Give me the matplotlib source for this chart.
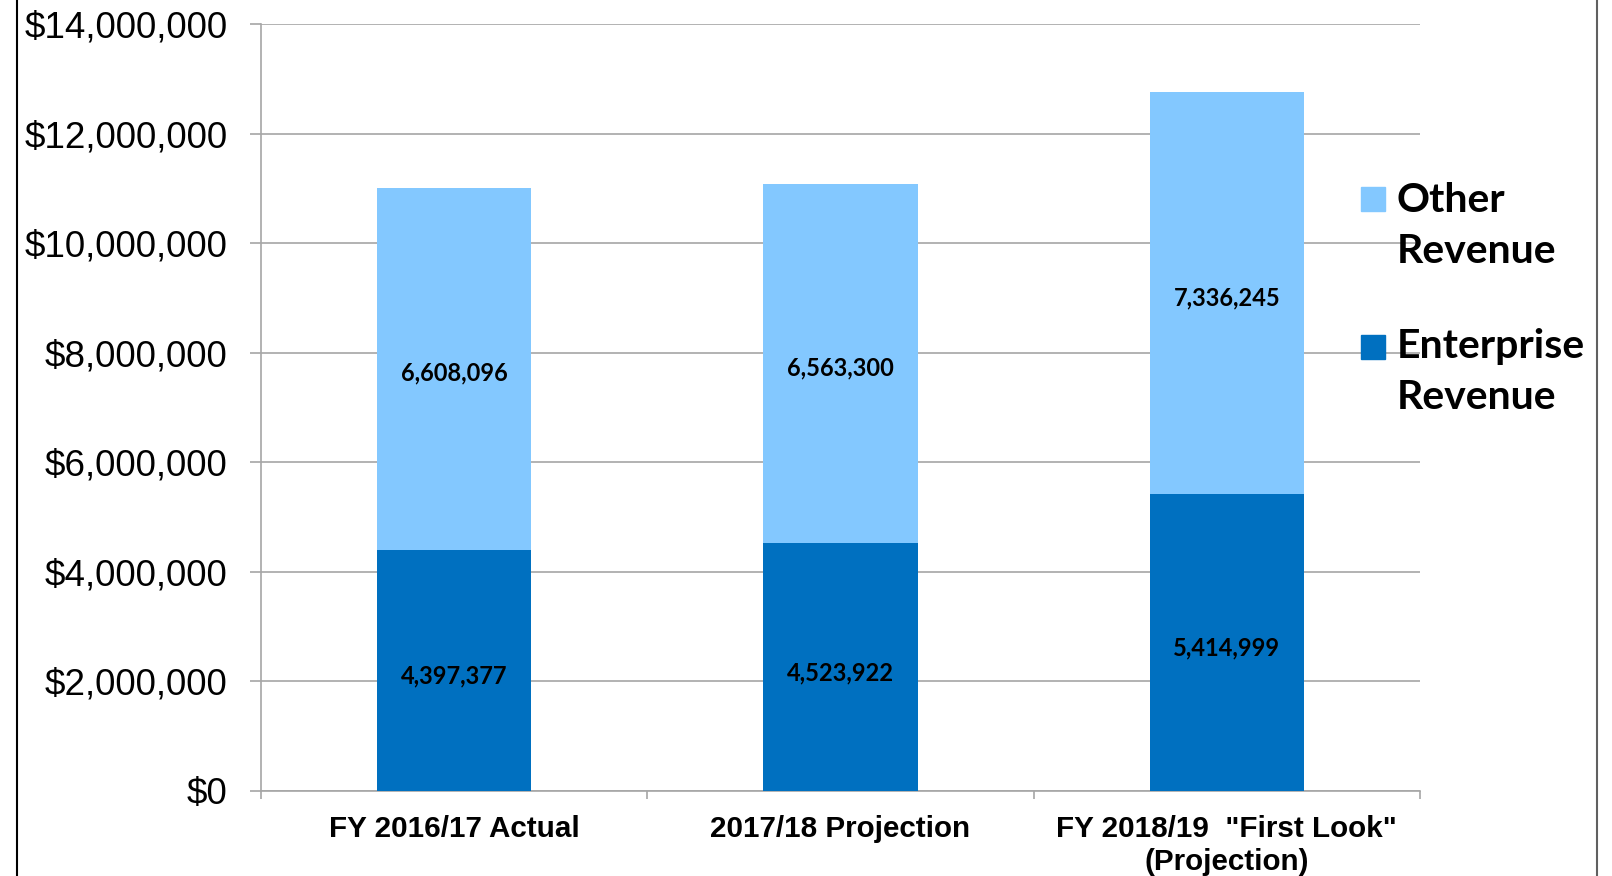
import numpy as np
import matplotlib
matplotlib.use('Agg')
import matplotlib.pyplot as plt
from matplotlib.patches import Rectangle
from matplotlib.lines import Line2D
from matplotlib.ticker import FuncFormatter

# Data
categories = ['FY 2016/17 Actual', '2017/18 Projection',
              'FY 2018/19  "First Look"\n(Projection)']
enterprise = [4397377, 4523922, 5414999]
other = [6608096, 6563300, 7336245]
series_names = ['Other\nRevenue', 'Enterprise\nRevenue']
colors = ['#83C8FF', '#0070C0']

fig = plt.figure(figsize=(16.12, 8.76), dpi=100)
ax = fig.add_axes([261/1612, 1 - 791/876, (1420-261)/1612, (791-24)/876])

x = np.arange(len(categories))
w = 0.40
ax.bar(x, enterprise, w, color=colors[1], zorder=3)
ax.bar(x, other, w, bottom=enterprise, color=colors[0], zorder=3)

# value labels, centred in each segment
for i in range(len(x)):
    ax.annotate(f'{enterprise[i]:,}', (x[i], enterprise[i] / 2), xytext=(0, -4),
                textcoords='offset points', ha='center', va='center',
                fontsize=17, fontweight='bold', family='Lato', color='black', zorder=4)
    ax.annotate(f'{other[i]:,}', (x[i], enterprise[i] + other[i] / 2), xytext=(0, -3),
                textcoords='offset points', ha='center', va='center',
                fontsize=17, fontweight='bold', family='Lato', color='black', zorder=4)

ax.set_xlim(-0.5, 2.5)
ax.set_ylim(0, 14000000)
ax.set_yticks(np.arange(0, 14000001, 2000000))
ax.yaxis.set_major_formatter(FuncFormatter(lambda v, p: '${:,.0f}'.format(v)))
ax.grid(axis='y', color='#A6A6A6', linewidth=1.2, zorder=0)

ax.set_xticks(x)
ax.set_xticklabels(categories, fontsize=21.3, fontweight='bold', family='Liberation Sans',
                   linespacing=1.25)
ax.set_xticks([-0.5, 0.5, 1.5, 2.5], minor=True)
ax.tick_params(axis='x', which='major', length=0, pad=17)
ax.tick_params(axis='x', which='minor', length=6, width=1.2, color='#A6A6A6', direction='out')
ax.tick_params(axis='y', length=8, width=1.2, color='#A6A6A6', pad=16, labelsize=26.5)
for lab in ax.get_yticklabels():
    lab.set_family('Liberation Sans')

for s in ['top', 'right']:
    ax.spines[s].set_visible(False)
for s in ['left', 'bottom']:
    ax.spines[s].set_color('#A6A6A6')
    ax.spines[s].set_linewidth(1.2)

# legend drawn by hand so the swatch sits on the first line
sw_center = [1 - 199/876, 1 - 347/876]
first_base = [1 - 212/876, 1 - 358/876]
for name, c, yy, yb in zip(series_names, colors, sw_center, first_base):
    fig.add_artist(Rectangle((1361/1612, yy - 12/876), 24/1612, 24/876,
                             transform=fig.transFigure, color=c))
    line1, line2 = name.split('\n')
    fig.text(1397/1612, yb, line1, fontsize=29.5, fontweight='bold', family='Lato',
             va='baseline', ha='left')
    fig.text(1397/1612, yb - 51/876, line2, fontsize=29.5, fontweight='bold', family='Lato',
             va='baseline', ha='left')

# chart frame edges
fig.add_artist(Line2D([17/1612, 17/1612], [0, 1], color='black', linewidth=1.5,
                      transform=fig.transFigure))
fig.add_artist(Line2D([1597/1612, 1597/1612], [0, 1], color='#606060', linewidth=1.5,
                      transform=fig.transFigure))

fig.savefig('out.png', dpi=100)
